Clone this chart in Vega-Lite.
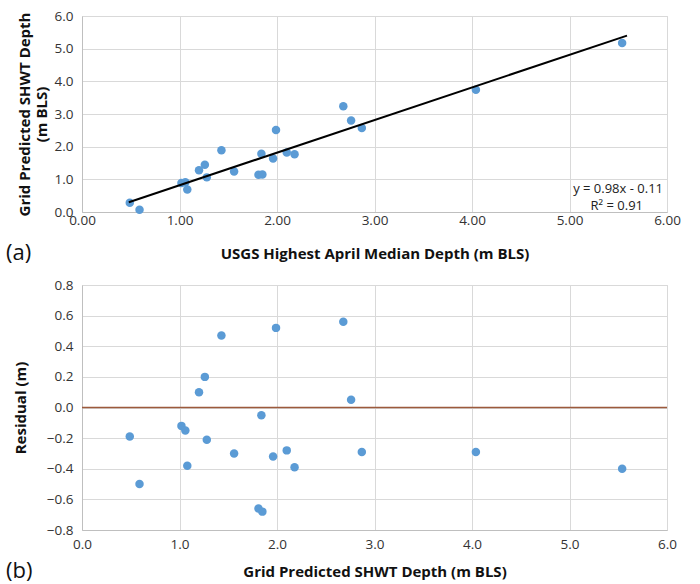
{
  "$schema": "https://vega.github.io/schema/vega-lite/v6.json",
  "background": "white",
  "padding": {"left": 5, "top": 8, "right": 13, "bottom": 0},
  "spacing": 13,
  "datasets": {
    "pts": [
      {"usgs": 0.49, "grid": 0.28, "resid": -0.19},
      {"usgs": 0.59, "grid": 0.07, "resid": -0.50},
      {"usgs": 1.02, "grid": 0.89, "resid": -0.12},
      {"usgs": 1.06, "grid": 0.91, "resid": -0.15},
      {"usgs": 1.08, "grid": 0.69, "resid": -0.38},
      {"usgs": 1.20, "grid": 1.28, "resid": 0.10},
      {"usgs": 1.26, "grid": 1.45, "resid": 0.20},
      {"usgs": 1.28, "grid": 1.06, "resid": -0.21},
      {"usgs": 1.43, "grid": 1.89, "resid": 0.47},
      {"usgs": 1.56, "grid": 1.24, "resid": -0.30},
      {"usgs": 1.81, "grid": 1.14, "resid": -0.66},
      {"usgs": 1.85, "grid": 1.15, "resid": -0.68},
      {"usgs": 1.84, "grid": 1.78, "resid": -0.05},
      {"usgs": 1.96, "grid": 1.64, "resid": -0.32},
      {"usgs": 1.99, "grid": 2.51, "resid": 0.52},
      {"usgs": 2.10, "grid": 1.82, "resid": -0.28},
      {"usgs": 2.18, "grid": 1.77, "resid": -0.39},
      {"usgs": 2.68, "grid": 3.24, "resid": 0.56},
      {"usgs": 2.76, "grid": 2.80, "resid": 0.05},
      {"usgs": 2.87, "grid": 2.57, "resid": -0.29},
      {"usgs": 4.04, "grid": 3.74, "resid": -0.29},
      {"usgs": 5.54, "grid": 5.17, "resid": -0.40}
    ],
    "fit": [
      {"usgs": 0.48, "grid": 0.30},
      {"usgs": 5.59, "grid": 5.40}
    ],
    "zero": [{"resid": 0}],
    "eq": [{"usgs": 6, "grid": 0, "l1": "y = 0.98x - 0.11", "l2": "R² = 0.91"}]
  },
  "config": {
    "font": "Open Sans",
    "view": {"stroke": "#d9d9d9", "strokeWidth": 1},
    "axis": {
      "gridColor": "#d9d9d9",
      "gridWidth": 1,
      "domainColor": "#bfbfbf",
      "ticks": false,
      "labelColor": "#333333",
      "labelFontSize": 13.5,
      "labelOverlap": false,
      "labelFlush": false,
      "labelBound": false,
      "titleFontSize": 15,
      "titleFontWeight": "bold",
      "titleColor": "#111111"
    },
    "axisY": {"labelPadding": 9, "titleFontSize": 15},
    "title": {"fontSize": 22, "fontWeight": "normal", "color": "#111111"}
  },
  "vconcat": [
    {
      "width": 585,
      "height": 196,
      "title": {"text": "(a)", "orient": "bottom", "anchor": "start", "frame": "group", "offset": -19, "dx": -76},
      "encoding": {
        "x": {"field": "usgs", "type": "quantitative", "scale": {"domain": [0, 6], "nice": false},
              "axis": {"values": [0, 1, 2, 3, 4, 5, 6], "tickCount": 7, "format": ".2f", "title": "USGS Highest April Median Depth (m BLS)", "labelPadding": 1, "titlePadding": 20}},
        "y": {"field": "grid", "type": "quantitative", "scale": {"domain": [0, 6], "nice": false},
              "axis": {"values": [0, 1, 2, 3, 4, 5, 6], "tickCount": 7, "format": ".1f", "title": ["Grid Predicted SHWT Depth", "(m BLS)"], "titlePadding": 5}}
      },
      "layer": [
        {
          "data": {"name": "pts"},
          "mark": {"type": "circle", "size": 72, "color": "#5b9bd5", "opacity": 1}
        },
        {
          "data": {"name": "fit"},
          "mark": {"type": "line", "color": "#000000", "strokeWidth": 2}
        },
        {
          "data": {"name": "eq"},
          "mark": {"type": "text", "align": "right", "baseline": "middle", "dx": -4, "dy": -23, "fontSize": 13, "color": "#222222"},
          "encoding": {"text": {"field": "l1"}}
        },
        {
          "data": {"name": "eq"},
          "mark": {"type": "text", "align": "right", "baseline": "middle", "dx": -24, "dy": -6, "fontSize": 13, "color": "#222222"},
          "encoding": {"text": {"field": "l2"}}
        }
      ]
    },
    {
      "width": 585,
      "height": 245,
      "title": {"text": "(b)", "orient": "bottom", "anchor": "start", "frame": "group", "offset": -19, "dx": -76},
      "encoding": {
        "y": {"field": "resid", "type": "quantitative", "scale": {"domain": [-0.8, 0.8], "nice": false},
              "axis": {"values": [-0.8, -0.6, -0.4, -0.2, 0, 0.2, 0.4, 0.6, 0.8], "tickCount": 9, "format": ".1f", "title": "Residual (m)", "titlePadding": 18}}
      },
      "layer": [
        {
          "data": {"name": "zero"},
          "mark": {"type": "rule", "color": "#9c5a3c", "strokeWidth": 1.5}
        },
        {
          "data": {"name": "pts"},
          "mark": {"type": "circle", "size": 72, "color": "#5b9bd5", "opacity": 1},
          "encoding": {
            "x": {"field": "usgs", "type": "quantitative", "scale": {"domain": [0, 6], "nice": false},
                  "axis": {"values": [0, 1, 2, 3, 4, 5, 6], "tickCount": 7, "format": ".1f", "title": "Grid Predicted SHWT Depth (m BLS)", "labelPadding": 7, "titlePadding": 14}}
          }
        }
      ]
    }
  ]
}
